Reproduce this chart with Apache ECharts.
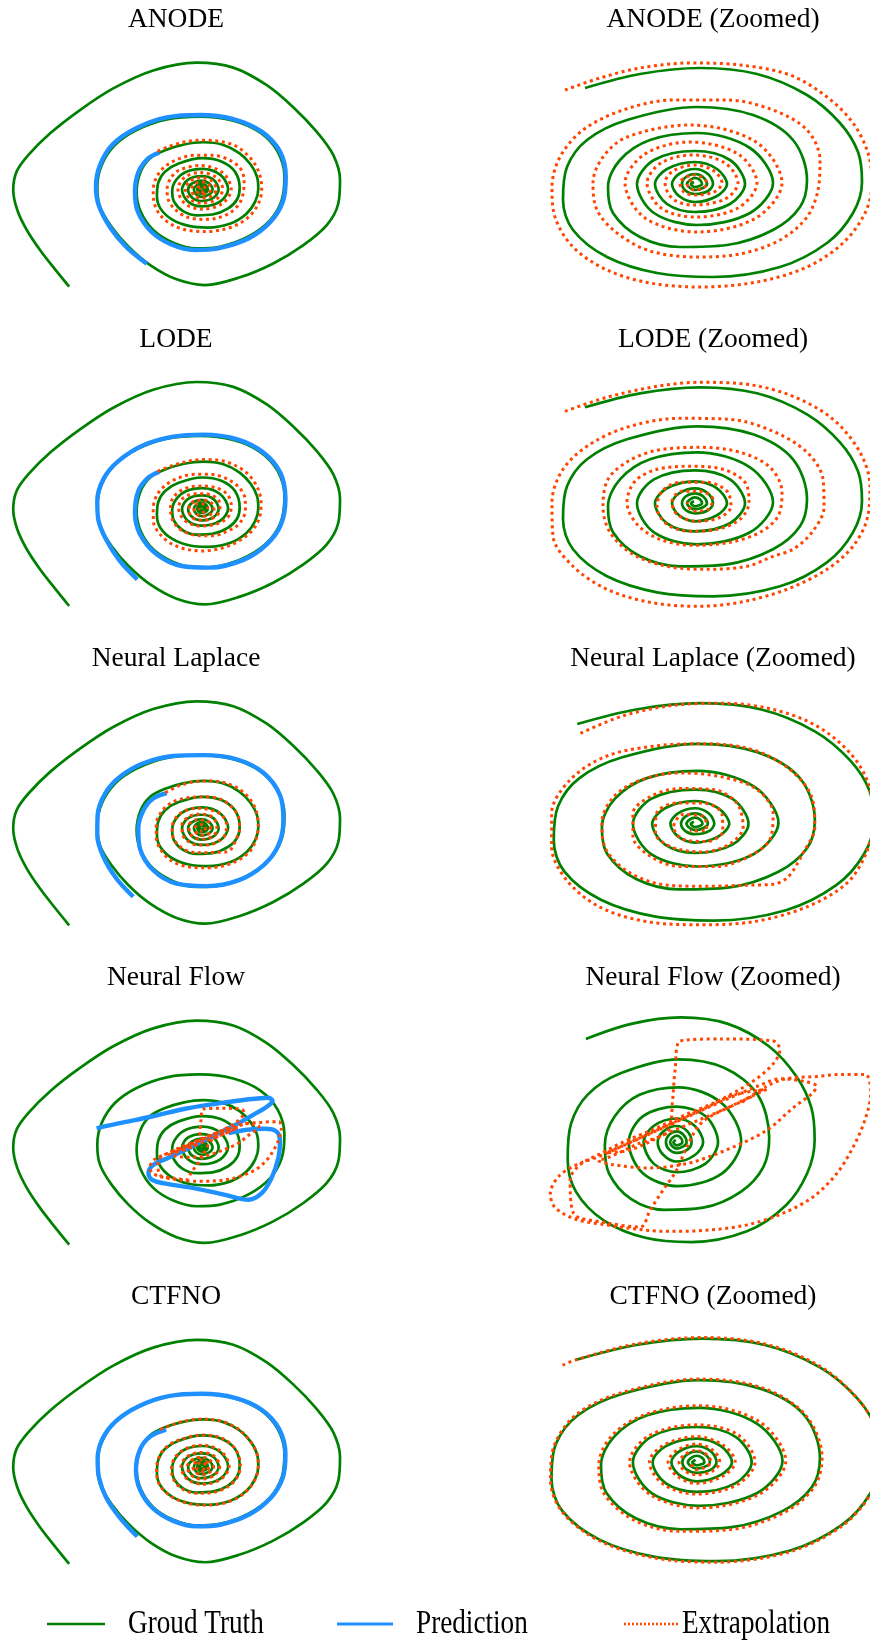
<!DOCTYPE html>
<html>
<head>
<meta charset="utf-8">
<script src="https://cdn.jsdelivr.net/npm/echarts@6/dist/echarts.min.js"></script>
<style>
html, body { margin: 0; padding: 0; background: #ffffff; }
#chart { width: 870px; height: 1640px; }
</style>
</head>
<body>
<div id="chart"></div>
<script>
// Phase-plane trajectories of the spiral system: ground truth, fitted part (prediction)
// and the extrapolated continuation for each model.

const methods = ['ANODE', 'LODE', 'Neural Laplace', 'Neural Flow', 'CTFNO'];
const zoomSuffix = ' (Zoomed)';
const legendLabels = ['Groud Truth', 'Prediction', 'Extrapolation'];

// Ground truth, outer turns (observed window)
const groundTruthOuter = [
  [-3.91,-2.37],[-4.33,-1.94],[-4.77,-1.47],[-5.16,-0.98],[-5.44,-0.49],[-5.56,0.00],[-5.46,0.45],
  [-5.11,0.86],[-4.47,1.39],[-3.59,1.96],[-2.61,2.49],[-1.43,2.93],[-0.15,3.12],[0.93,3.00],
  [1.92,2.57],[2.70,2.03],[3.39,1.43],[3.88,0.86],[4.08,0.25],[4.03,-0.33],[3.69,-0.86],
  [3.00,-1.35],[2.11,-1.80],[1.13,-2.14],[0.10,-2.33],[-0.74,-2.19],[-1.52,-1.84],[-2.16,-1.39],
  [-2.66,-0.90],[-3.00,-0.41],[-3.08,0.08],[-2.95,0.61],[-2.56,1.10],[-1.92,1.47],[-1.03,1.73],
  [-0.05,1.80],[0.93,1.70],[1.72,1.41],[2.24,0.94],[2.44,0.33],[2.36,-0.25],[2.02,-0.74],
  [1.38,-1.14],[0.54,-1.39],[-0.15,-1.43],[-0.84,-1.29],[-1.43,-0.98],[-1.80,-0.53],[-1.92,-0.04],
  [-1.80,0.45],[-1.52,0.78]
];

// Ground truth, inner turns (extrapolation window)
const groundTruthInner = [
  [-1.10,0.97],[-0.55,1.11],[0.05,1.17],[0.62,1.11],[1.12,0.90],[1.45,0.62],[1.63,0.33],[1.67,0.03],
  [1.58,-0.28],[1.32,-0.58],[0.85,-0.82],[0.18,-0.92],[-0.38,-0.88],[-0.88,-0.72],[-1.22,-0.45],
  [-1.32,-0.15],[-1.28,0.18],[-1.08,0.45],[-0.68,0.65],[0.02,0.78],[0.58,0.70],[0.98,0.45],
  [1.12,0.05],[1.05,-0.22],[0.78,-0.45],[0.32,-0.60],[-0.15,-0.62],[-0.55,-0.52],[-0.82,-0.28],
  [-0.87,-0.02],[-0.75,0.25],[-0.45,0.45],
  [0.02,0.52],[0.55,0.37],[0.78,0.02],[0.55,-0.28],[0.02,-0.40],[-0.41,-0.28],[-0.58,0.01],[-0.41,0.25],
  [0.00,0.34],[0.35,0.25],[0.50,0.01],[0.35,-0.19],[0.00,-0.27],[-0.28,-0.19],[-0.40,0.01],[-0.28,0.16],
  [0.00,0.23],[0.22,0.16],[0.32,0.01],[0.22,-0.11],[0.00,-0.17],[-0.16,-0.11],[-0.23,0.01],[-0.16,0.11],
  [0.00,0.16],[0.13,0.11],[0.18,0.01],[0.13,-0.06],[0.00,-0.09],[-0.09,-0.06],[-0.13,0.01],[-0.09,0.08],
  [0.00,0.11],[0.08,0.08],[0.12,0.01],[0.08,-0.03],[0.00,-0.05],[-0.05,-0.03],[-0.08,0.01],[-0.05,0.05],
  [0.00,0.07],[0.05,0.05],[0.07,0.01],[0.00,-0.02],[-0.04,0.01],[-0.01,0.03]
];

// Predictions over the observed window
const predAnode = [
  [-1.62,-1.81],[-2.21,-1.41],[-2.70,-0.92],[-3.04,-0.37],[-3.12,0.08],[-3.00,0.61],[-2.61,1.13],
  [-1.92,1.52],[-1.03,1.78],[-0.05,1.84],[0.93,1.74],[1.77,1.43],[2.31,0.94],[2.48,0.33],
  [2.40,-0.27],[2.03,-0.78],[1.38,-1.19],[0.49,-1.43],[-0.20,-1.47],[-0.91,-1.33],[-1.50,-1.01],
  [-1.88,-0.54],[-1.97,-0.04],[-1.86,0.45],[-1.57,0.78],[-1.25,0.92]
];
const predLode = [
  [-1.90,-1.72],[-2.41,-1.27],[-2.82,-0.74],[-3.05,-0.25],[-3.08,0.20],[-2.90,0.74],[-2.46,1.18],
  [-1.72,1.57],[-0.84,1.78],[0.05,1.83],[1.03,1.72],[1.82,1.39],[2.33,0.88],[2.47,0.25],
  [2.34,-0.37],[1.92,-0.86],[1.23,-1.24],[0.25,-1.43],[-0.59,-1.39],[-1.33,-1.10],[-1.82,-0.61],
  [-1.97,-0.08],[-1.87,0.45],[-1.57,0.78],[-1.25,0.92]
];
const predLaplace = [
  [-2.02,-1.67],[-2.51,-1.23],[-2.90,-0.69],[-3.08,-0.16],[-3.07,0.33],[-2.85,0.86],[-2.41,1.27],
  [-1.72,1.60],[-0.84,1.78],[0.05,1.80],[1.03,1.70],[1.82,1.37],[2.31,0.82],[2.41,0.20],
  [2.26,-0.41],[1.82,-0.90],[1.08,-1.27],[0.15,-1.41],[-0.74,-1.35],[-1.43,-1.02],[-1.82,-0.49],
  [-1.87,0.00],[-1.72,0.45],[-1.43,0.74],[-1.03,0.87]
];
const predFlow = [
  [-3.10,0.48],[-2.46,0.60],[-1.47,0.77],[-0.49,0.96],[0.49,1.09],[1.28,1.18],[1.97,1.23],
  [2.09,1.15],[1.92,1.01],[1.52,0.81],[1.08,0.60],[0.49,0.36],[-0.29,0.03],[-0.98,-0.24],
  [-1.43,-0.42],[-1.57,-0.62],[-1.47,-0.78],[-0.98,-0.89],[-0.20,-0.99],[0.69,-1.15],[1.38,-1.27],
  [1.77,-1.11],[2.06,-0.74],[2.26,-0.25],[2.31,0.16],[2.21,0.40],[1.87,0.47],[1.28,0.44],[0.79,0.36]
];
const predCtfno = [
  [-1.90,-1.70],[-2.41,-1.24],[-2.82,-0.74],[-3.03,-0.25],[-3.07,0.20],[-2.93,0.69],[-2.53,1.13],
  [-1.87,1.49],[-0.98,1.74],[0.00,1.80],[0.98,1.70],[1.77,1.41],[2.29,0.93],[2.47,0.31],
  [2.39,-0.26],[2.04,-0.75],[1.40,-1.16],[0.54,-1.41],[-0.15,-1.45],[-0.86,-1.31],[-1.45,-1.00],
  [-1.82,-0.55],[-1.94,-0.06],[-1.82,0.43],[-1.52,0.75],[-1.05,0.92]
];

// Extrapolations beyond the observed window
const extrapAnode = [
  [-1.30,0.95],[-0.95,1.07],[-0.55,1.17],[-0.05,1.22],[0.45,1.20],[0.95,1.10],[1.32,0.88],
  [1.58,0.62],[1.73,0.32],[1.77,0.02],[1.70,-0.28],[1.48,-0.58],[1.12,-0.82],[0.62,-0.97],
  [0.05,-1.02],[-0.45,-0.98],[-0.88,-0.85],[-1.22,-0.62],[-1.40,-0.32],[-1.43,-0.02],[-1.35,0.28],
  [-1.12,0.55],[-0.72,0.75],[-0.22,0.85],[0.32,0.85],[0.78,0.75],[1.12,0.55],[1.25,0.25],
  [1.23,-0.05],[1.12,-0.32],[0.85,-0.55],[0.45,-0.69],[0.02,-0.72],[-0.45,-0.66],[-0.78,-0.48],
  [-0.98,-0.25],[-1.02,0.02],[-0.92,0.28],[-0.68,0.48],
  [-0.05,0.60],[0.61,0.43],[0.87,0.02],[0.61,-0.33],[0.02,-0.47],[-0.50,-0.33],[-0.70,0.02],[-0.50,0.31],
  [-0.05,0.43],[0.43,0.31],[0.62,0.02],[0.43,-0.23],[0.00,-0.32],[-0.34,-0.23],[-0.48,0.02],[-0.34,0.22],
  [-0.02,0.30],[0.30,0.22],[0.43,0.02],[0.30,-0.14],[-0.02,-0.20],[-0.22,-0.14],[-0.30,0.02],[-0.22,0.14],
  [0.00,0.20],[0.19,0.14],[0.27,0.02],[0.19,-0.07],[-0.01,-0.10],[-0.11,-0.07],[-0.15,0.02],[-0.11,0.07],
  [0.00,0.10],[0.08,0.07],[0.12,0.02],[0.08,-0.03],[-0.01,-0.05],[-0.08,0.01],[-0.03,0.05]
];
const extrapLode = [
  [-1.30,0.93],[-0.88,1.07],[-0.38,1.18],[0.05,1.22],[0.52,1.20],[0.98,1.08],[1.38,0.85],
  [1.65,0.52],[1.75,0.18],[1.72,-0.15],[1.58,-0.42],[1.32,-0.65],[0.92,-0.85],[0.45,-0.98],
  [0.02,-1.02],[-0.45,-0.98],[-0.88,-0.85],[-1.22,-0.62],[-1.42,-0.32],[-1.43,0.02],[-1.32,0.35],
  [-1.05,0.60],[-0.65,0.78],[-0.15,0.86],[0.35,0.85],[0.78,0.73],[1.12,0.52],[1.28,0.25],
  [1.29,-0.03],[1.17,-0.28],[0.98,-0.45],[0.78,-0.52],[0.52,-0.62],[0.12,-0.65],[-0.28,-0.62],
  [-0.62,-0.50],[-0.85,-0.28],[-0.92,-0.02],[-0.87,0.25],[-0.67,0.43],[-0.38,0.54],[0.05,0.57],
  [0.45,0.52],[0.75,0.37],[0.87,0.12],[0.83,-0.12],[0.65,-0.28],[0.35,-0.38],[-0.02,-0.41],
  [-0.35,-0.35],[-0.58,-0.20],[-0.68,0.02],[-0.60,0.23],[-0.38,0.35],[-0.05,0.38],[0.28,0.35],
  [0.50,0.22],[0.54,0.02],[0.45,-0.15],[0.22,-0.25],[-0.05,-0.27],[-0.28,-0.20],[-0.38,-0.03],
  [-0.33,0.13],[-0.15,0.22],[0.12,0.22],[0.32,0.13],[0.36,-0.02],[0.25,-0.13],[0.02,-0.17],
  [-0.18,-0.10],[-0.23,0.03],[-0.13,0.13],[0.05,0.13],[0.18,0.05],[0.13,-0.05],[-0.02,-0.07],
  [-0.08,0.02]
];
const extrapLaplace = [
  [-1.07,0.88],[-0.67,1.05],[-0.20,1.15],[0.26,1.17],[0.73,1.11],[1.14,0.95],[1.45,0.69],
  [1.62,0.40],[1.67,0.05],[1.60,-0.27],[1.42,-0.56],[1.04,-0.79],[0.55,-0.93],[0.05,-0.96],
  [-0.45,-0.93],[-0.89,-0.79],[-1.20,-0.53],[-1.34,-0.21],[-1.34,0.11],[-1.17,0.43],[-0.83,0.66],
  [-0.36,0.76],[0.11,0.78],[0.55,0.72],[0.89,0.53],[1.09,0.27],[1.12,-0.02],[1.01,-0.27],
  [0.87,-0.50],[0.73,-0.57],[0.48,-0.58],[0.11,-0.59],[-0.26,-0.58],[-0.61,-0.46],[-0.83,-0.24],
  [-0.87,0.02],[-0.76,0.27],[-0.51,0.43],[-0.14,0.50],[0.26,0.46],[0.58,0.34],[0.73,0.11],
  [0.70,-0.14],[0.51,-0.30],[0.20,-0.40],[-0.14,-0.40],[-0.42,-0.30],[-0.58,-0.11],[-0.58,0.11],
  [-0.42,0.27],[-0.14,0.35],[0.17,0.34],[0.39,0.21],[0.45,-0.02],[0.33,-0.18],[0.08,-0.26],
  [-0.20,-0.22],[-0.37,-0.08],[-0.36,0.11],[-0.17,0.21],[0.08,0.21],[0.25,0.11],[0.26,-0.06],
  [0.11,-0.16],[-0.11,-0.14],[-0.20,-0.02],[-0.11,0.10],[0.08,0.08],[0.11,-0.05],[-0.05,-0.06]
];
const extrapFlow = [
  [0.79,0.38],[1.09,0.53],[1.33,0.60],[1.69,0.62],[1.98,0.64],[2.28,0.64],[2.35,0.47],[2.28,0.22],
  [2.14,-0.03],[1.94,-0.28],[1.65,-0.50],[1.29,-0.65],[0.85,-0.76],[0.36,-0.81],[-0.12,-0.82],
  [-0.48,-0.80],[-0.85,-0.76],[-1.21,-0.71],[-1.47,-0.60],[-1.53,-0.47],[-1.43,-0.31],[-1.21,-0.20],
  [-0.93,-0.12],[-0.61,-0.01],[-0.20,0.13],[0.20,0.27],[0.61,0.41],[1.01,0.54],[1.25,0.60],
  [1.57,0.57],[1.69,0.53],[1.65,0.47],[1.41,0.33],[1.09,0.12],[0.61,-0.06],[0.12,-0.19],
  [-0.36,-0.23],[-0.77,-0.20],[-0.95,-0.16],[-0.85,-0.14],[-0.48,-0.01],[-0.10,0.12],[-0.05,0.40],
  [-0.02,0.68],[0.04,0.95],[0.56,0.97],[1.17,0.95],[1.25,0.87],[1.17,0.74],[0.93,0.58],[0.52,0.40],
  [0.12,0.27],[-0.28,0.13],[-0.65,0.01],[-0.93,-0.10],[-1.17,-0.20],[-1.29,-0.34],[-1.25,-0.65],
  [-0.85,-0.74],[-0.44,-0.78],[-0.32,-0.62],[-0.16,-0.43],[0.00,-0.25],[0.12,-0.04],[0.30,0.19],
  [0.70,0.36],[1.09,0.50],[0.70,0.45],[0.30,0.31],[-0.10,0.17],[-0.50,0.03],[-0.85,-0.09],
  [-0.55,-0.06],[-0.15,0.08],[0.25,0.21],[0.65,0.34],[0.95,0.45]
];
const extrapCtfno = [
  [-1.22,0.92],[-1.10,0.97],[-0.55,1.12],[0.05,1.18],[0.62,1.12],[1.12,0.91],[1.45,0.62],[1.63,0.33],
  [1.67,0.03],[1.58,-0.29],[1.32,-0.59],[0.85,-0.83],[0.18,-0.93],[-0.38,-0.89],[-0.88,-0.73],
  [-1.22,-0.46],[-1.33,-0.15],[-1.29,0.18],[-1.09,0.46],[-0.69,0.66],[0.02,0.79],[0.59,0.71],
  [0.99,0.45],[1.14,0.05],[1.07,-0.22],[0.80,-0.46],[0.33,-0.62],[-0.15,-0.64],[-0.56,-0.54],
  [-0.84,-0.29],[-0.89,-0.02],[-0.77,0.26],[-0.46,0.46],
  [0.02,0.54],[0.57,0.39],[0.81,0.02],[0.57,-0.29],[0.02,-0.42],[-0.43,-0.29],[-0.61,0.01],[-0.43,0.26],
  [0.00,0.36],[0.37,0.27],[0.53,0.01],[0.37,-0.20],[0.00,-0.29],[-0.30,-0.20],[-0.43,0.01],[-0.30,0.17],
  [0.00,0.25],[0.24,0.17],[0.35,0.01],[0.24,-0.12],[0.00,-0.19],[-0.18,-0.12],[-0.26,0.01],[-0.18,0.12],
  [0.00,0.18],[0.15,0.12],[0.21,0.01],[0.15,-0.07],[0.00,-0.11],[-0.11,-0.07],[-0.16,0.01],[-0.11,0.08],
  [0.00,0.12],[0.09,0.08],[0.13,0.01],[0.07,-0.04],[0.00,-0.06],[-0.06,0.00]
];

const predictions = [predAnode, predLode, predLaplace, predFlow, predCtfno];
const extrapolations = [extrapAnode, extrapLode, extrapLaplace, extrapFlow, extrapCtfno];
const groundTruthFull = groundTruthOuter.concat(groundTruthInner);

// ---- layout ----
const COLORS = { truth: '#008000', pred: '#1e90ff', extrap: '#ff4500' };
const ROW_STEP = 319.3;
const SMOOTH = 0.33;
const FONT = '"Liberation Serif", "DejaVu Serif", serif';
// full view: pixel position of the origin and pixels per unit
const fullView = { cx: 201.7, cy: 190, sx: 33.9, sy: 40.8 };
const fullRange = { xr: [-6, 4.6], yr: [-2.7, 3.4] };
// zoomed views, one per row
const zoomViews = [
  { cx: 695, cy: 185, sx: 100, sy: 100 },
  { cx: 695, cy: 185, sx: 100, sy: 100 },
  { cx: 695, cy: 186.3, sx: 107, sy: 104 },
  { cx: 676.7, cy: 185.3, sx: 82.6, sy: 107.5 },
  { cx: 696.7, cy: 186, sx: 110, sy: 106.5 }
];
const zoomRange = { xr: [-1.9, 2.7], yr: [-1.35, 1.45] };

const grids = [], xAxes = [], yAxes = [], series = [], titles = [];

function addPanel(view, range, rowOff) {
  const idx = grids.length;
  const xr = range.xr, yr = range.yr;
  grids.push({
    left: view.cx + xr[0] * view.sx,
    width: (xr[1] - xr[0]) * view.sx,
    top: rowOff + view.cy - yr[1] * view.sy,
    height: (yr[1] - yr[0]) * view.sy,
    containLabel: false,
    outerBoundsMode: 'none'
  });
  xAxes.push({ type: 'value', gridIndex: idx, min: xr[0], max: xr[1], show: false, splitLine: { show: false } });
  yAxes.push({ type: 'value', gridIndex: idx, min: yr[0], max: yr[1], show: false, splitLine: { show: false } });
  return idx;
}

function lineSeries(name, idx, data, kind) {
  const style = {
    truth: { color: COLORS.truth, width: 2.7, type: 'solid' },
    pred: { color: COLORS.pred, width: 4.4, type: 'solid' },
    extrap: { color: COLORS.extrap, width: 3, type: [3, 3.6], cap: 'butt' }
  }[kind];
  return {
    name: name, type: 'line', xAxisIndex: idx, yAxisIndex: idx, data: data,
    showSymbol: false, symbol: 'none', smooth: SMOOTH, clip: false, silent: true,
    lineStyle: style, emphasis: { disabled: true }
  };
}

methods.forEach((m, k) => {
  const rowOff = k * ROW_STEP;
  const li = addPanel(fullView, fullRange, rowOff);
  series.push(lineSeries(legendLabels[0], li, groundTruthFull, 'truth'));
  series.push(lineSeries(legendLabels[1], li, predictions[k], 'pred'));
  series.push(lineSeries(legendLabels[2], li, extrapolations[k], 'extrap'));

  const ri = addPanel(zoomViews[k], zoomRange, rowOff);
  series.push(lineSeries(legendLabels[0], ri, groundTruthInner, 'truth'));
  series.push(lineSeries(legendLabels[2], ri, extrapolations[k], 'extrap'));

  const titleStyle = { fontFamily: FONT, fontSize: 27.5, fontWeight: 'normal', color: '#000', lineHeight: 28 };
  titles.push({ text: m, left: 176, top: rowOff + 6, textAlign: 'center', padding: 0, textStyle: titleStyle });
  titles.push({ text: m + zoomSuffix, left: 713, top: rowOff + 6, textAlign: 'center', padding: 0, textStyle: titleStyle });
});

// legend row
const legendY = 1624;
const legendItems = [
  { x1: 47, x2: 105, tx: 128, kind: 'truth' },
  { x1: 337, x2: 393, tx: 416, kind: 'pred' },
  { x1: 624, x2: 678, tx: 682, kind: 'extrap' }
];
const graphic = [];
legendItems.forEach((it, i) => {
  const c = COLORS[it.kind];
  graphic.push({
    type: 'line', silent: true,
    shape: { x1: it.x1, y1: legendY, x2: it.x2, y2: legendY },
    style: {
      stroke: c,
      lineWidth: it.kind === 'pred' ? 3 : 2.6,
      lineDash: it.kind === 'extrap' ? [2, 2] : null
    }
  });
  graphic.push({
    type: 'text', silent: true, x: it.tx, y: legendY, scaleX: 0.8, originX: 0, originY: 0,
    style: { text: legendLabels[i], font: '34px ' + FONT, fill: '#000', textAlign: 'left', textVerticalAlign: 'middle' }
  });
});

const chart = echarts.init(document.getElementById('chart'), null, { renderer: 'canvas' });
chart.setOption({
  backgroundColor: '#ffffff',
  animation: false,
  title: titles,
  grid: grids,
  xAxis: xAxes,
  yAxis: yAxes,
  series: series,
  graphic: graphic
});
</script>
</body>
</html>
